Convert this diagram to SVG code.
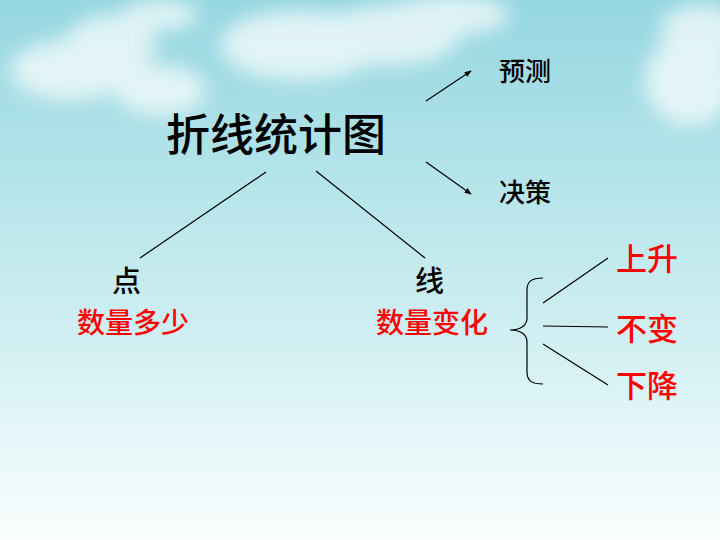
<svg xmlns="http://www.w3.org/2000/svg" width="720" height="540" viewBox="0 0 720 540">
<defs>
<linearGradient id="sky" x1="0" y1="0" x2="0" y2="1">
<stop offset="0" stop-color="#95d6e0"/>
<stop offset="0.35" stop-color="#b6e5ea"/>
<stop offset="0.65" stop-color="#d3f0f3"/>
<stop offset="1" stop-color="#fbfefe"/>
</linearGradient>
<filter id="blur" x="-50%" y="-50%" width="200%" height="200%"><feGaussianBlur stdDeviation="10"/></filter>
<marker id="arr" viewBox="0 0 10 10" refX="9" refY="5" markerWidth="7" markerHeight="7" orient="auto" markerUnits="userSpaceOnUse">
<path d="M0,1 L10,5 L0,9 z" fill="#000"/>
</marker>
<style>
.t{font-family:"Noto Sans CJK SC","Noto Sans CJK JP",sans-serif;fill:#000;font-weight:500}
.r{font-family:"Noto Sans CJK SC","Noto Sans CJK JP",sans-serif;fill:#ff0000;font-weight:500}
.ln{stroke:#000;stroke-width:1.2;fill:none}
</style>
</defs>
<rect width="720" height="540" fill="url(#sky)"/>
<g fill="#ffffff" opacity="0.7" filter="url(#blur)">
<ellipse cx="70" cy="70" rx="60" ry="30"/>
<ellipse cx="110" cy="45" rx="45" ry="30"/>
<ellipse cx="160" cy="90" rx="45" ry="25"/>
<ellipse cx="300" cy="45" rx="80" ry="35"/>
<ellipse cx="390" cy="35" rx="70" ry="30"/>
<ellipse cx="450" cy="15" rx="60" ry="20"/>
<ellipse cx="690" cy="80" rx="45" ry="45"/>
<ellipse cx="700" cy="30" rx="40" ry="25"/>
<ellipse cx="160" cy="15" rx="40" ry="15"/>
</g>
<g id="connectors">
<line class="ln" x1="426" y1="101" x2="471" y2="71" marker-end="url(#arr)"/>
<line class="ln" x1="426" y1="162" x2="471" y2="194" marker-end="url(#arr)"/>
<line class="ln" x1="266" y1="172" x2="140" y2="258"/>
<line class="ln" x1="316" y1="171" x2="425" y2="258"/>
<path class="ln" d="M543,278 C532,278 527,281 527,290 L527,318 C527,326 520,330 510,330 C520,330 527,334 527,342 L527,372 C527,381 532,384 543,384"/>
<line class="ln" x1="543" y1="303" x2="608" y2="258"/>
<line class="ln" x1="543" y1="326" x2="608" y2="327"/>
<line class="ln" x1="543" y1="344" x2="608" y2="385"/>
</g>
<g id="title"><text class="t" x="166" y="151" font-size="44">折线统计图</text></g>
<g id="yuce"><text class="t" x="499" y="81" font-size="26">预测</text></g>
<g id="juece"><text class="t" x="499" y="202" font-size="26">决策</text></g>
<g id="dian"><text class="t" x="112" y="292" font-size="29">点</text></g>
<g id="xian"><text class="t" x="415" y="292" font-size="29">线</text></g>
<g id="shuliangduoshao"><text class="r" x="77" y="333" font-size="28">数量多少</text></g>
<g id="shuliangbianhua"><text class="r" x="376" y="333" font-size="28">数量变化</text></g>
<g id="shangsheng"><text class="r" x="616" y="270" font-size="31">上升</text></g>
<g id="bubian"><text class="r" x="616" y="340" font-size="31">不变</text></g>
<g id="xiajiang"><text class="r" x="616" y="397" font-size="31">下降</text></g>
</svg>
